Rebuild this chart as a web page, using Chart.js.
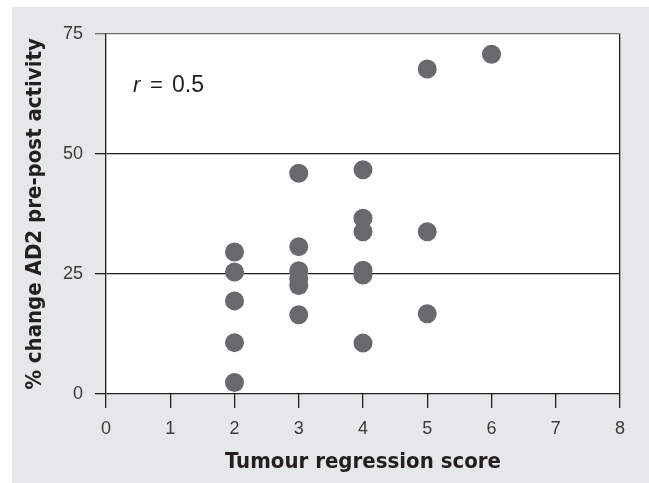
<!DOCTYPE html>
<html>
<head>
<meta charset="utf-8">
<script src="https://cdn.jsdelivr.net/npm/chart.js@4"></script>
<style>
    body { margin: 0; background: #fff; }
    #panel {
        position: absolute;
        left: 12px;
        top: 7px;
        width: 637px;
        height: 476px;
        background: #e6e7e8;
    }
</style>
</head>
<body>
<div id="panel"><canvas id="scatter" width="637" height="476"></canvas></div>
<script>
// tumour regression score per patient
const scores = [2, 2, 2, 2, 2, 3, 3, 3, 3, 3, 3, 4, 4, 4, 4, 4, 4, 5, 5, 5, 6]
// % change AD2 pre-post activity
const change = [29.6, 25.4, 19.4, 10.7, 2.4, 46, 30.7, 25.7, 24, 22.6, 16.5, 46.7, 36.6, 33.8, 25.8, 24.8, 10.6, 67.7, 33.8, 16.7, 70.8]
const xTicks = [0, 1, 2, 3, 4, 5, 6, 7, 8]
const yTicks = [0, 25, 50, 75]
const rValue = '0.5'

const titleFont = '"DejaVu Sans Condensed", "Liberation Sans", sans-serif'
const tickFont = '"Liberation Sans", sans-serif'

const points = scores.map((s, i) => ({ x: s, y: change[i] }))

const panelBg = {
    id: 'panelBg',
    beforeDraw(chart) {
        const { ctx, chartArea } = chart
        ctx.save()
        ctx.fillStyle = '#ffffff'
        ctx.fillRect(chartArea.left, chartArea.top, chartArea.right - chartArea.left, chartArea.bottom - chartArea.top)
        ctx.restore()
    },
    afterDraw(chart) {
        // r = 0.5 note in the top left corner
        const { ctx, chartArea } = chart
        ctx.save()
        ctx.fillStyle = '#231f20'
        ctx.textBaseline = 'middle'
        const x = chartArea.left + 27
        const y = chartArea.top + 52
        ctx.font = 'italic 22px "Liberation Sans"'
        ctx.fillText('r', x, y)
        ctx.font = '22px "Liberation Sans"'
        ctx.fillText('=', x + 17, y)
        ctx.font = '23px "Liberation Sans"'
        ctx.fillText(rValue, x + 39, y)
        ctx.restore()
    },
}

new Chart('scatter', {
    type: 'scatter',
    data: {
        datasets: [
            {
                data: points,
                pointRadius: 9.5,
                pointHoverRadius: 9.5,
                pointBackgroundColor: '#68686d',
                pointBorderWidth: 0,
            },
        ],
    },
    options: {
        responsive: false,
        animation: false,
        events: [],
        layout: { padding: { top: 27, right: 29, left: 0, bottom: 0 } },
        plugins: { legend: { display: false }, tooltip: { enabled: false } },
        scales: {
            x: {
                type: 'linear',
                min: 0,
                max: 8,
                afterBuildTicks: (axis) => {
                    axis.ticks = xTicks.map((v) => ({ value: v }))
                },
                afterFit: (axis) => {
                    axis.height = 89
                },
                grid: {
                    drawOnChartArea: true,
                    color: (c) => (c.tick && c.tick.value === 8 ? '#231f20' : 'rgba(0,0,0,0)'),
                    tickColor: '#231f20',
                    tickLength: 14,
                    lineWidth: 1.3,
                },
                border: { display: false },
                ticks: {
                    color: '#3a3a3a',
                    font: { family: tickFont, size: 18 },
                    padding: 10,
                    maxRotation: 0,
                },
                title: {
                    display: true,
                    text: 'Tumour regression score',
                    color: '#231f20',
                    font: { family: titleFont, size: 22, weight: 'bold' },
                    padding: { top: 0, bottom: 8 },
                },
            },
            y: {
                min: 0,
                max: 75,
                afterBuildTicks: (axis) => {
                    axis.ticks = yTicks.map((v) => ({ value: v }))
                },
                afterFit: (axis) => {
                    axis.width = 94
                },
                grid: {
                    color: (c) => (c.tick && c.tick.value === 75 ? '#6d6e71' : '#231f20'),
                    tickLength: 11,
                    lineWidth: 1.3,
                },
                border: { display: true, color: '#231f20', width: 1.3 },
                ticks: {
                    color: '#3a3a3a',
                    font: { family: tickFont, size: 18 },
                    padding: 12,
                },
                title: {
                    display: true,
                    text: '% change AD2 pre-post activity',
                    color: '#231f20',
                    font: { family: titleFont, size: 22, weight: 'bold' },
                    padding: { top: 10, bottom: 0 },
                },
            },
        },
    },
    plugins: [panelBg],
})
</script>
</body>
</html>
